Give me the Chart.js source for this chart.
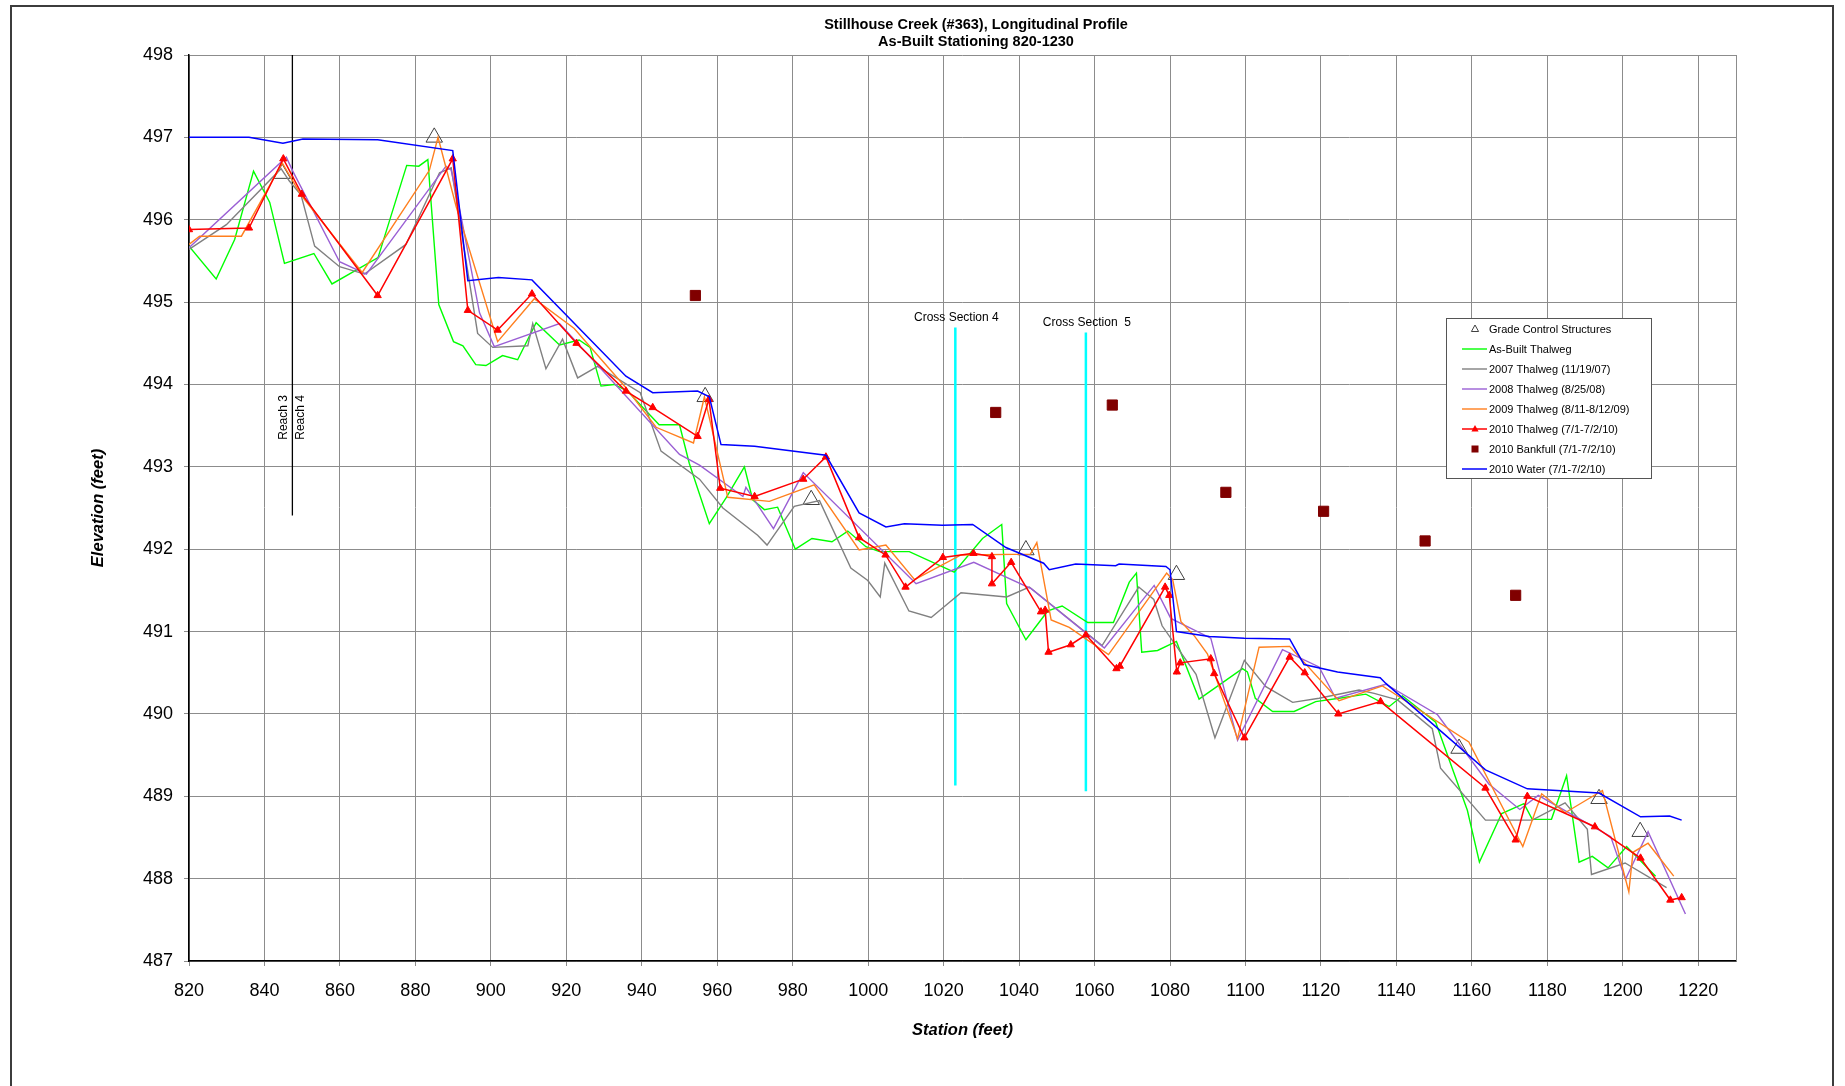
<!DOCTYPE html>
<html>
<head>
<meta charset="utf-8">
<title>Stillhouse Creek (#363), Longitudinal Profile</title>
<script src="https://cdn.jsdelivr.net/npm/chart.js@4.4.0/dist/chart.umd.min.js"></script>
<style>
    html, body { margin: 0; padding: 0; background: #fff; }
    canvas { display: block; }
</style>
</head>
<body>
<canvas id="profile" width="1845" height="1086"></canvas>
<script>
// [station (ft), elevation (ft)] pairs
const gradeControl = [
    [844.7, 496.56], [885, 497.0], [956.8, 493.85], [984.9, 492.6], [1041.8, 491.99],
    [1081.7, 491.69], [1156.6, 489.58], [1193.7, 488.97], [1204.6, 488.57]
];

const asBuilt = [
    [820, 495.68], [827.2, 495.28], [832.1, 495.76], [837.1, 496.59], [841.4, 496.21],
    [845.3, 495.47], [853.1, 495.59], [857.9, 495.22], [870.1, 495.54], [877.7, 496.66],
    [880.9, 496.65], [883.3, 496.73], [886.2, 494.97], [890.1, 494.52], [892.6, 494.47],
    [896, 494.24], [898.7, 494.23], [903.1, 494.35], [907.1, 494.3], [912, 494.75],
    [918.2, 494.48], [923.4, 494.54], [926.3, 494.45], [929.2, 493.98], [932.7, 494.0],
    [936.2, 493.92], [944.6, 493.51], [950, 493.51], [952.6, 493.04], [957.9, 492.31],
    [962.3, 492.62], [967.2, 493.0], [969.4, 492.6], [972.5, 492.48], [976, 492.51],
    [980.7, 492.0], [985.1, 492.13], [990.4, 492.09], [994.6, 492.22], [999.4, 492.03],
    [1003, 491.97], [1010.9, 491.97], [1022.8, 491.72], [1030.3, 492.13], [1035.4, 492.3],
    [1036.7, 491.34], [1041.8, 490.9], [1047.6, 491.25], [1051.4, 491.31], [1058.2, 491.11],
    [1065, 491.11], [1069.2, 491.6], [1071.1, 491.71], [1072.5, 490.75], [1076.7, 490.77],
    [1081.7, 490.88], [1087.7, 490.18], [1099.2, 490.55], [1100.5, 490.51], [1102.6, 490.19],
    [1107.2, 490.03], [1112.9, 490.03], [1118.6, 490.15], [1124.8, 490.19], [1131.9, 490.24],
    [1138.1, 490.09], [1141.6, 490.22], [1150.4, 489.9], [1158.8, 488.83], [1162, 488.2],
    [1167.9, 488.79], [1173.8, 488.91], [1176, 488.72], [1181.1, 488.72], [1185.1, 489.25],
    [1188.4, 488.2], [1191.9, 488.27], [1196.1, 488.13], [1201, 488.39], [1208.7, 488.03]
];

const thalweg2007 = [
    [820, 495.64], [829.9, 495.94], [844.4, 496.62], [846.6, 496.47], [849.7, 496.3],
    [853.3, 495.68], [859.9, 495.43], [866.5, 495.34], [877.5, 495.7], [886.4, 496.57],
    [889.5, 496.63], [896.5, 494.62], [900.5, 494.45], [909.8, 494.47], [911.1, 494.74],
    [914.6, 494.19], [919, 494.55], [923, 494.08], [928.3, 494.22], [939.6, 493.9],
    [945.1, 493.19], [955.3, 492.85], [961.5, 492.5], [970.7, 492.17], [973.2, 492.05],
    [980.4, 492.52], [987.1, 492.59], [995.4, 491.77], [999.9, 491.62], [1003.2, 491.42],
    [1004.4, 491.83], [1010.8, 491.25], [1016.7, 491.17], [1024.6, 491.47], [1036.7, 491.42],
    [1042.7, 491.54], [1062, 490.83], [1071.7, 491.54], [1075.7, 491.39], [1077.9, 491.07],
    [1086.9, 490.48], [1091.9, 489.71], [1099.7, 490.65], [1105.4, 490.33], [1112.5, 490.14],
    [1119.5, 490.19], [1130.1, 490.29], [1134.1, 490.25], [1140.3, 490.17], [1149.5, 489.82],
    [1151.7, 489.34], [1163.6, 488.71], [1176, 488.71], [1184.7, 488.92], [1190.6, 488.6],
    [1191.7, 488.05], [1200.6, 488.19], [1211.6, 487.89]
];

const thalweg2008 = [
    [820, 495.66], [845.8, 496.76], [847.5, 496.59], [859.9, 495.49], [867, 495.34],
    [888.1, 496.65], [889.5, 496.6], [892.1, 496.04], [897, 494.87], [900.9, 494.46],
    [918.2, 494.74], [950, 493.15], [955.3, 493.02], [966.8, 492.64], [967.6, 492.75],
    [974.9, 492.25], [982.8, 492.93], [1012.7, 491.58], [1028, 491.84], [1043.2, 491.52],
    [1062.6, 490.8], [1075.8, 491.56], [1080.2, 491.16], [1090.8, 490.92], [1097.9, 489.68],
    [1109.8, 490.78], [1119.5, 490.57], [1123.9, 490.19], [1137.2, 490.36], [1150.9, 489.99],
    [1164.5, 489.15], [1172.7, 488.84], [1177.6, 489.01], [1196.8, 488.51], [1200.7, 487.99],
    [1206.7, 488.57], [1216.6, 487.57]
];

const thalweg2009 = [
    [820, 495.7], [822.8, 495.8], [833.9, 495.8], [844.7, 496.69], [849.7, 496.3],
    [865.9, 495.36], [883.7, 496.6], [886, 497.0], [890.8, 496.16], [901.8, 494.52],
    [911.5, 495.04], [922.1, 494.68], [935.8, 493.96], [943.8, 493.48], [953.7, 493.29],
    [956.6, 493.85], [962.8, 492.63], [973.8, 492.58], [985.7, 492.78], [997.6, 491.99],
    [1004.7, 492.05], [1012.3, 491.63], [1024.6, 491.93], [1043, 491.94], [1044.7, 492.08],
    [1048.5, 491.14], [1053.3, 491.05], [1063.7, 490.72], [1079.1, 491.71], [1080.7, 491.63],
    [1082.9, 491.12], [1086.4, 490.95], [1089.9, 490.73], [1097.9, 489.7], [1103.6, 490.81],
    [1111.7, 490.82], [1124.8, 490.16], [1136.3, 490.34], [1159.2, 489.66], [1173.5, 488.39],
    [1178.5, 489.03], [1184.7, 488.8], [1194.6, 489.07], [1201.6, 487.84], [1202.7, 488.32],
    [1206.7, 488.43], [1213.5, 488.03]
];

const thalweg2010 = [
    [820, 495.88], [835.9, 495.9], [845, 496.74], [849.9, 496.31], [870, 495.08],
    [889.9, 496.74], [893.9, 494.9], [901.8, 494.66], [910.9, 495.1], [922.7, 494.5],
    [935.8, 493.92], [942.9, 493.72], [954.8, 493.37], [957.8, 493.82], [960.8, 492.74],
    [969.9, 492.64], [982.8, 492.85], [988.8, 493.12], [997.6, 492.14], [1004.6, 491.93],
    [1009.9, 491.54], [1019.8, 491.9], [1027.9, 491.95], [1032.8, 491.91], [1032.8, 491.58],
    [1037.9, 491.84], [1045.8, 491.24], [1046.9, 491.26], [1047.8, 490.75], [1053.7, 490.84],
    [1057.7, 490.96], [1065.8, 490.55], [1066.7, 490.58], [1078.7, 491.54], [1079.8, 491.44],
    [1081.8, 490.51], [1082.7, 490.62], [1090.8, 490.67], [1091.7, 490.49], [1099.7, 489.71],
    [1111.7, 490.69], [1115.7, 490.5], [1124.6, 490.0], [1135.8, 490.15], [1163.6, 489.1],
    [1171.6, 488.47], [1174.7, 489.0], [1192.6, 488.63], [1204.7, 488.25], [1212.6, 487.74],
    [1215.6, 487.77]
];

const bankfull2010 = [
    [954.2, 495.08], [1033.8, 493.66], [1064.7, 493.75], [1094.8, 492.69],
    [1120.7, 492.46], [1147.6, 492.1], [1171.6, 491.44]
];

const water2010 = [
    [820, 497.0], [835.9, 497.0], [844.9, 496.93], [850.2, 496.98], [870, 496.97],
    [889.9, 496.84], [893.9, 495.26], [902, 495.3], [910.9, 495.27], [935.8, 494.1],
    [942.9, 493.9], [954.8, 493.92], [957.9, 493.85], [961, 493.27], [969.9, 493.25],
    [988.8, 493.14], [997.6, 492.44], [1004.7, 492.27], [1009.6, 492.31], [1019.7, 492.29],
    [1027.7, 492.3], [1036.5, 492.02], [1046.5, 491.83], [1048, 491.75], [1055, 491.82],
    [1065.6, 491.8], [1066.5, 491.82], [1078.9, 491.79], [1080, 491.75], [1081.7, 491.0],
    [1090.4, 490.94], [1099.7, 490.92], [1111.7, 490.91], [1115.5, 490.6], [1124.4, 490.51],
    [1135.7, 490.44], [1137.2, 490.37], [1163.6, 489.32], [1174.7, 489.09], [1193.7, 489.04],
    [1204.7, 488.75], [1212.4, 488.76], [1215.6, 488.71]
];

// vertical reference lines
const reachBoundary = [[847.4, 498], [847.4, 492.41]];
const crossSection4 = [[1023.1, 494.69], [1023.1, 489.13]];
const crossSection5 = [[1057.7, 494.63], [1057.7, 489.06]];

const FONT = '"Liberation Sans", Arial, Helvetica, sans-serif';
const GRID = '#8c8c8c';

const toXY = pts => pts.map(p => ({x: p[0], y: p[1]}));

function series(label, pts, colour, width, extra) {
    return Object.assign({
        label: label,
        data: toXY(pts),
        borderColor: colour,
        backgroundColor: colour,
        borderWidth: width,
        showLine: true,
        pointRadius: 0,
        pointHoverRadius: 0,
        tension: 0,
        fill: false
    }, extra || {});
}

// bottom to top drawing order, like the spreadsheet it came from
const datasets = [
    series('Reach 3 / Reach 4', reachBoundary, '#000000', 1.3),
    series('Cross Section 4', crossSection4, '#00ffff', 2.5),
    series('Cross Section  5', crossSection5, '#00ffff', 2.5),
    series('Grade Control Structures', gradeControl, '#404040', 1, {
        showLine: false, pointStyle: 'triangle', pointRadius: 9.5,
        pointBorderWidth: 1, backgroundColor: 'rgba(0,0,0,0)', legendKind: 'hollowTriangle'
    }),
    series('As-Built Thalweg', asBuilt, '#00ff00', 1.4, {legendKind: 'line'}),
    series('2007 Thalweg (11/19/07)', thalweg2007, '#808080', 1.4, {legendKind: 'line'}),
    series('2008 Thalweg (8/25/08)', thalweg2008, '#9a5fd4', 1.4, {legendKind: 'line'}),
    series('2009 Thalweg (8/11-8/12/09)', thalweg2009, '#ff7f1e', 1.4, {legendKind: 'line'}),
    series('2010 Thalweg (7/1-7/2/10)', thalweg2010, '#ff0000', 1.5, {
        pointStyle: 'triangle', pointRadius: 4.2, pointBorderWidth: 1, legendKind: 'lineTriangle'
    }),
    series('2010 Bankfull (7/1-7/2/10)', bankfull2010, '#800000', 1, {
        showLine: false, pointStyle: 'rect', pointRadius: 7.2, legendKind: 'square'
    }),
    series('2010 Water (7/1-7/2/10)', water2010, '#0000ff', 1.5, {legendKind: 'line'})
];
datasets.forEach((d, i) => { d.order = datasets.length - i; });

const decor = {
    id: 'profileDecor',
    beforeDraw(chart) {
        const ctx = chart.ctx;
        ctx.save();
        ctx.fillStyle = '#ffffff';
        ctx.fillRect(0, 0, chart.width, chart.height);
        ctx.strokeStyle = '#3c3c3c';
        ctx.lineWidth = 2;
        ctx.strokeRect(11, 6, 1822, 1100);
        ctx.restore();
    },
    afterDraw(chart) {
        const ctx = chart.ctx;
        const area = chart.chartArea;
        const xs = chart.scales.x;
        const ys = chart.scales.y;
        ctx.save();

        // plot frame (right side, the axes and the 498 grid line do the rest)
        ctx.strokeStyle = GRID;
        ctx.lineWidth = 1;
        ctx.beginPath();
        ctx.moveTo(Math.round(area.right) + 0.5, area.top);
        ctx.lineTo(Math.round(area.right) + 0.5, area.bottom);
        ctx.stroke();

        // title
        ctx.fillStyle = '#000';
        ctx.textAlign = 'center';
        ctx.textBaseline = 'middle';
        ctx.font = 'bold 14.5px ' + FONT;
        ctx.fillText('Stillhouse Creek (#363), Longitudinal Profile', 976, 25);
        ctx.fillText('As-Built Stationing 820-1230', 976, 42);

        // cross section labels sit just above their lines
        ctx.font = '12px ' + FONT;
        [[crossSection4, 'Cross Section 4'], [crossSection5, 'Cross Section  5']].forEach(([pts, txt]) => {
            const px = xs.getPixelForValue(pts[0][0]);
            const py = ys.getPixelForValue(pts[0][1]);
            ctx.fillText(txt, px + 1, py - 10);
        });

        // reach labels, rotated, either side of the boundary line
        const rx = xs.getPixelForValue(reachBoundary[0][0]);
        const ry = ys.getPixelForValue(493.6);
        [['Reach 3', -9], ['Reach 4', 8]].forEach(([txt, dx]) => {
            ctx.save();
            ctx.translate(rx + dx, ry);
            ctx.rotate(-Math.PI / 2);
            ctx.fillText(txt, 0, 0);
            ctx.restore();
        });

        // legend box
        const lg = {x: 1446, y: 318, w: 205, h: 160};
        ctx.fillStyle = '#fff';
        ctx.fillRect(lg.x, lg.y, lg.w, lg.h);
        ctx.strokeStyle = '#555';
        ctx.lineWidth = 1;
        ctx.strokeRect(lg.x + 0.5, lg.y + 0.5, lg.w, lg.h);
        ctx.textAlign = 'left';
        ctx.font = '11px ' + FONT;
        const items = chart.data.datasets.filter(d => d.legendKind);
        items.forEach((d, i) => {
            const cy = lg.y + 11 + i * 20;
            const mx = 1475;
            ctx.strokeStyle = d.borderColor;
            ctx.fillStyle = d.borderColor;
            if (d.legendKind === 'line' || d.legendKind === 'lineTriangle') {
                ctx.lineWidth = d.borderWidth;
                ctx.beginPath();
                ctx.moveTo(1462, cy);
                ctx.lineTo(1487, cy);
                ctx.stroke();
            }
            if (d.legendKind === 'lineTriangle' || d.legendKind === 'hollowTriangle') {
                ctx.beginPath();
                ctx.moveTo(mx, cy - 4);
                ctx.lineTo(mx + 3.6, cy + 2.5);
                ctx.lineTo(mx - 3.6, cy + 2.5);
                ctx.closePath();
                ctx.lineWidth = 1;
                if (d.legendKind === 'lineTriangle') ctx.fill();
                else ctx.stroke();
            }
            if (d.legendKind === 'square') {
                ctx.fillRect(mx - 3.5, cy - 3.5, 7, 7);
            }
            ctx.fillStyle = '#000';
            ctx.fillText(d.label, 1489, cy + 0.5);
        });

        ctx.restore();
    }
};

new Chart(document.getElementById('profile'), {
    type: 'scatter',
    data: {datasets: datasets},
    plugins: [decor],
    options: {
        responsive: false,
        animation: false,
        events: [],
        layout: {padding: {top: 55, right: 109, bottom: 0, left: 0}},
        plugins: {
            legend: {display: false},
            title: {display: false},
            tooltip: {enabled: false}
        },
        scales: {
            x: {
                type: 'linear',
                position: 'bottom',
                min: 820,
                max: 1230,
                ticks: {
                    stepSize: 20,
                    includeBounds: false,
                    autoSkip: false,
                    maxRotation: 0,
                    padding: 14,
                    color: '#000',
                    font: {family: FONT, size: 18},
                    callback: v => String(v)
                },
                grid: {color: GRID, lineWidth: 1, tickLength: 5},
                border: {color: '#000', width: 1.5},
                title: {
                    display: true,
                    text: 'Station (feet)',
                    color: '#000',
                    font: {family: FONT, size: 16.5, weight: 'bold', style: 'italic'},
                    padding: {top: 0, bottom: 46}
                },
                afterFit: s => { s.height = 125; }
            },
            y: {
                type: 'linear',
                position: 'left',
                min: 487,
                max: 498,
                ticks: {
                    stepSize: 1,
                    padding: 11,
                    color: '#000',
                    font: {family: FONT, size: 18},
                    callback: v => String(v)
                },
                grid: {color: GRID, lineWidth: 1, tickLength: 5},
                border: {color: '#000', width: 1.5},
                title: {
                    display: true,
                    text: 'Elevation (feet)',
                    color: '#000',
                    font: {family: FONT, size: 16.5, weight: 'bold', style: 'italic'},
                    padding: {top: 89, bottom: 0}
                },
                afterFit: s => { s.width = 189; }
            }
        }
    }
});
</script>
</body>
</html>
